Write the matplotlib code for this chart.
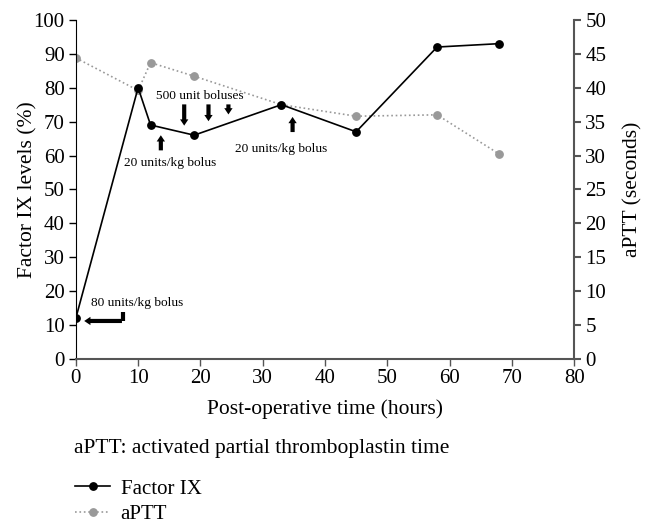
import matplotlib.pyplot as plt
from matplotlib.lines import Line2D

plt.rcParams['font.family'] = ['Liberation Serif', 'DejaVu Serif']

# data
hours = [0, 10, 12, 19, 33, 45, 58, 68]
factor_ix = [12, 80, 69, 66, 75, 67, 92, 93]
aptt = [44.4, 39.6, 43.7, 41.7, 37.5, 35.8, 36.0, 30.2]

# bolus markers
boluses_500 = [17.4, 21.3, 24.5]
boluses_500_tip = [68.0, 69.3, 71.3]
boluses_20 = [13.65, 34.8]
boluses_20_base = [60.7, 66.1]

fig = plt.figure(figsize=(6.48, 5.24), dpi=100)
ax = fig.add_axes([0.117, 0.315, 0.769, 0.647])
ax2 = ax.twinx()

ax2.plot(hours, aptt, ':', color='#999999', lw=1.2, marker='o', ms=5.3,
         mfc='#999999', mec='#999999', zorder=2)
ax.plot(hours, factor_ix, '-', color='black', lw=1.2, marker='o', ms=5.3,
        zorder=3)
ax.set_zorder(ax2.get_zorder() + 1)
ax.patch.set_visible(False)

ax.set_xlim(0, 80)
ax.set_ylim(0, 100)
ax2.set_ylim(0, 50)
ax.set_xticks(range(0, 81, 10))
ax.set_yticks(range(0, 101, 10))
ax2.set_yticks(range(0, 51, 5))

for a in (ax, ax2):
    a.spines['top'].set_visible(False)
    a.tick_params(labelsize=15, length=5, width=1, pad=3)
ax.spines['right'].set_visible(False)
ax2.spines['left'].set_visible(False)
ax2.spines['bottom'].set_visible(False)
ax2.spines['right'].set_color('#555555')
ax2.spines['right'].set_linewidth(1.5)
ax2.tick_params(color='#555555', width=1.5)
ax.spines['bottom'].set_color('#555555')
ax.spines['bottom'].set_linewidth(1.5)
ax.tick_params(axis='x', color='#555555', pad=2)

ax.set_xlabel('Post-operative time (hours)', fontsize=15.5, labelpad=8)
ax.set_ylabel('Factor IX levels (%)', fontsize=15.5, labelpad=-3)
ax2.set_ylabel('aPTT (seconds)', fontsize=15.5, labelpad=12)

arrow = dict(arrowstyle='simple,head_width=0.6,head_length=0.45,tail_width=0.3',
             color='black', lw=0)

# 80 units/kg bolus (elbow arrow)
ax.plot([7.6, 7.6], [13.9, 11.2], color='black', lw=3, solid_capstyle='butt')
ax.annotate('', xy=(0.9, 11.2), xytext=(7.85, 11.2), arrowprops=arrow)
ax.text(2.4, 16.5, '80 units/kg bolus', fontsize=9.6, va='center', ha='left')

# 500 unit boluses
ax.text(19.9, 77.6, '500 unit boluses', fontsize=9.6, ha='center', va='center')
for x, tip in zip(boluses_500, boluses_500_tip):
    ax.annotate('', xy=(x, tip), xytext=(x, 75.9), arrowprops=arrow)

# 20 units/kg boluses
for x, base in zip(boluses_20, boluses_20_base):
    ax.annotate('', xy=(x, base + 6.1), xytext=(x, base), arrowprops=arrow)
ax.text(15.2, 57.8, '20 units/kg bolus', fontsize=9.6, ha='center', va='center')
ax.text(33.0, 62.0, '20 units/kg bolus', fontsize=9.6, ha='center', va='center')

fig.text(0.114, 1 - 448 / 524, 'aPTT: activated partial thromboplastin time',
         fontsize=15.5, va='center', ha='left')

handles = [
    Line2D([], [], color='black', lw=1.2, marker='o', ms=5.3),
    Line2D([], [], color='#999999', lw=1.2, ls=':', marker='o', ms=5.3),
]
fig.legend(handles, ['Factor IX', 'aPTT'], loc='upper left',
           bbox_to_anchor=(0.1155, 1 - 479 / 524), frameon=False, fontsize=15,
           handlelength=1.7, handletextpad=0.5, labelspacing=0.3,
           borderpad=0.0, borderaxespad=0.0)

fig.savefig('out.png', dpi=100)
